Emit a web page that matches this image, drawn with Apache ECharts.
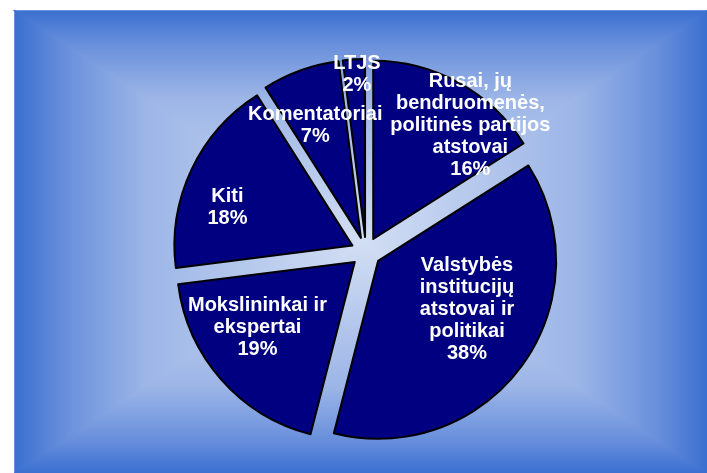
<!DOCTYPE html>
<html>
<head>
<meta charset="utf-8">
<script src="https://cdn.jsdelivr.net/npm/echarts@6/dist/echarts.min.js"></script>
<style>
  html, body { margin: 0; padding: 0; background: #fff; }
  #chart { width: 707px; height: 473px; }
</style>
</head>
<body>
<div id="chart"></div>
<script>
// slices, clockwise from 12 o'clock
var categories = [
    'Rusai, jų\nbendruomenės,\npolitinės partijos\natstovai',
    'Valstybės\ninstitucijų\natstovai ir\npolitikai',
    'Mokslininkai ir\nekspertai',
    'Kiti',
    'Komentatoriai',
    'LTJS'
];
var shares = [16, 38, 19, 18, 7, 2];

// label nudges from the default inside spot
var labelShift = [[22, -24], [22, 7], [-9, -21], [-36, 26], [2, -24], [3, -74]];

var chart = echarts.init(document.getElementById('chart'));

// "from center" slide background made of 4 triangles
var L = 15, T = 11, R = 707, B = 473, GX = 361, GY = 242;
function grad(x, y, x2, y2) {
    return {
        type: 'linear', x: x, y: y, x2: x2, y2: y2,
        colorStops: [
            { offset: 0, color: '#3a6fd0' },
            { offset: 0.15, color: '#6a90dc' },
            { offset: 0.38, color: '#9db6e7' },
            { offset: 1, color: '#d2def3' }
        ]
    };
}
var bg = [
    [[[L, T], [R, T], [GX, GY]], [0, 0, 0, 1]],
    [[[L, B], [R, B], [GX, GY]], [0, 1, 0, 0]],
    [[[L, T], [L, B], [GX, GY]], [0, 0, 1, 0]],
    [[[R, T], [R, B], [GX, GY]], [1, 0, 0, 0]]
].map(function (t) {
    var g = grad.apply(null, t[1]);
    return {
        type: 'polygon', z: -10, silent: true,
        shape: { points: t[0] },
        style: { fill: g, stroke: g, lineWidth: 1.5 }
    };
});

var data = categories.map(function (name, i) {
    return { name: name, value: shares[i], selected: true };
});

var sliceStyle = { color: '#000080', borderColor: '#000', borderWidth: 2 };
var labelStyle = {
    show: true,
    position: 'inside',
    formatter: '{b}\n{c}%',
    color: '#fff',
    fontFamily: 'Liberation Sans, Arial, sans-serif',
    fontWeight: 'bold',
    fontSize: 20,
    lineHeight: 22
};

option = {
    animation: false,
    backgroundColor: '#fff',
    graphic: bg,
    series: [
        {
            type: 'pie',
            center: [366, 252],
            radius: [0, 178],
            startAngle: 90,
            clockwise: true,
            selectedMode: 'multiple',
            selectedOffset: 15,
            avoidLabelOverlap: false,
            silent: true,
            itemStyle: sliceStyle,
            label: labelStyle,
            labelLine: { show: false },
            emphasis: { disabled: true },
            select: { itemStyle: sliceStyle, label: labelStyle },
            labelLayout: function (p) {
                var s = labelShift[p.dataIndex];
                return { dx: s[0], dy: s[1] };
            },
            data: data
        }
    ]
};

chart.setOption(option);
</script>
</body>
</html>
